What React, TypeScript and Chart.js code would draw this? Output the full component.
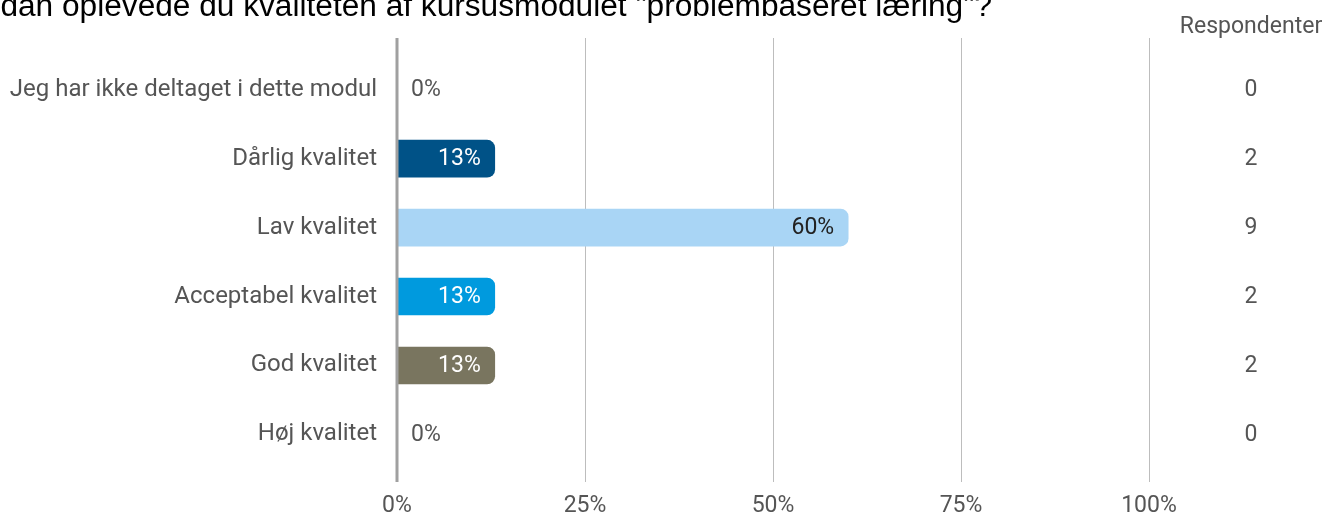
import React, { useEffect, useRef } from "react";
import { Chart, registerables } from "chart.js";

Chart.register(...registerables);

const titleText = 'Hvordan oplevede du kvaliteten af kursusmodulet "problembaseret læring"?';
const titleVisiblePart = 'dan oplevede du kvaliteten af kursusmodulet "problembaseret læring"?';
const categories = [
  "Jeg har ikke deltaget i dette modul",
  "Dårlig kvalitet",
  "Lav kvalitet",
  "Acceptabel kvalitet",
  "God kvalitet",
  "Høj kvalitet",
];
const percentages = [0, 13, 60, 13, 13, 0];
const percentLabels = ["0%", "13%", "60%", "13%", "13%", "0%"];
const respondents = [0, 2, 9, 2, 2, 0];
const respondentHeader = "Respondenter";
const xTicks = [0, 25, 50, 75, 100];

const barColors = ["#cccccc", "#005287", "#a9d5f5", "#009ade", "#79755f", "#cccccc"];
const insideLabelColors = ["#555555", "#ffffff", "#222222", "#ffffff", "#ffffff", "#555555"];

const FONT = "Roboto";

const overlayPlugin = {
  id: "overlay",
  afterDatasetsDraw(chart: any) {
    const ctx = chart.ctx;
    const xs = chart.scales.x;
    const area = chart.chartArea;
    const meta = chart.getDatasetMeta(0);
    ctx.save();
    // zero axis line
    const x0 = xs.getPixelForValue(0);
    ctx.strokeStyle = "#a0a0a0";
    ctx.lineWidth = 3;
    ctx.beginPath();
    ctx.moveTo(x0, area.top);
    ctx.lineTo(x0, area.bottom);
    ctx.stroke();

    ctx.font = `23px ${FONT}`;
    ctx.textBaseline = "middle";
    meta.data.forEach((bar: any, i: number) => {
      const v = percentages[i];
      if (v > 0) {
        ctx.textAlign = "right";
        ctx.fillStyle = insideLabelColors[i];
        ctx.fillText(percentLabels[i], bar.x - 14, bar.y + 1);
      } else {
        ctx.textAlign = "left";
        ctx.fillStyle = "#555555";
        ctx.fillText(percentLabels[i], x0 + 14, bar.y + 1);
      }
      // respondents column
      ctx.textAlign = "center";
      ctx.fillStyle = "#555555";
      ctx.fillText(String(respondents[i]), 1251, bar.y + 1);
    });

    ctx.font = `23px ${FONT}`;
    ctx.textAlign = "center";
    ctx.fillStyle = "#555555";
    ctx.fillText(respondentHeader, 1251, 27);

    // title, clipped at the top-left as in the reference
    ctx.font = `24px "Liberation Sans", Arial, sans-serif`;
    const w = ctx.measureText(titleVisiblePart).width;
    const size = (24 * 992) / w;
    ctx.font = `${size}px "Liberation Sans", Arial, sans-serif`;
    ctx.textAlign = "right";
    ctx.textBaseline = "alphabetic";
    ctx.fillStyle = "#000000";
    ctx.fillText(titleText, 992, 16);
    ctx.restore();
  },
};

export default function App() {
  const ref = useRef<HTMLCanvasElement | null>(null);
  useEffect(() => {
    if (!ref.current) return;
    const chart = new Chart(ref.current, {
      type: "bar",
      data: {
        datasets: [
          {
            data: percentages.map((p, i) => ({ x: p, y: i })),
            backgroundColor: barColors,
            borderRadius: 8,
            borderSkipped: "start",
            barThickness: 37,
          } as any,
        ],
      },
      options: {
        indexAxis: "y",
        animation: false,
        responsive: false,
        maintainAspectRatio: false,
        layout: { padding: { top: 38, right: 194, left: 0, bottom: 0 } },
        plugins: { legend: { display: false }, tooltip: { enabled: false }, title: { display: false } },
        scales: {
          x: {
            type: "linear",
            min: 0,
            max: 100,
            afterBuildTicks: (scale: any) => {
              scale.ticks = xTicks.map((v) => ({ value: v }));
            },
            afterFit: (scale: any) => {
              scale.height = 37;
            },
            ticks: {
              callback: (v: any) => `${v}%`,
              font: { family: FONT, size: 23 },
              color: "#555555",
              padding: 10,
              maxRotation: 0,
            },
            grid: {
              drawTicks: false,
              color: (c: any) => (c.tick && c.tick.value === 0 ? "rgba(0,0,0,0)" : "#bdbdbd"),
              lineWidth: 1,
            },
            border: { display: false },
          },
          y: {
            type: "linear",
            reverse: true,
            offset: false,
            min: -0.75,
            max: 5.69,
            afterBuildTicks: (scale: any) => {
              scale.ticks = categories.map((_, i) => ({ value: i }));
            },
            afterFit: (scale: any) => {
              scale.width = 397;
            },
            ticks: {
              callback: (v: any) => categories[v] ?? "",
              font: { family: FONT, size: 24 },
              color: "#555555",
              padding: 20,
              autoSkip: false,
            },
            grid: { display: false, drawTicks: false },
            border: { display: false },
          },
        },
      },
      plugins: [overlayPlugin],
    } as any);
    return () => chart.destroy();
  }, []);
  return (
    <div style={{ position: "absolute", left: 0, top: 0, width: 1343, height: 519, background: "#fff" }}>
      <canvas ref={ref} width={1343} height={519} />
    </div>
  );
}
